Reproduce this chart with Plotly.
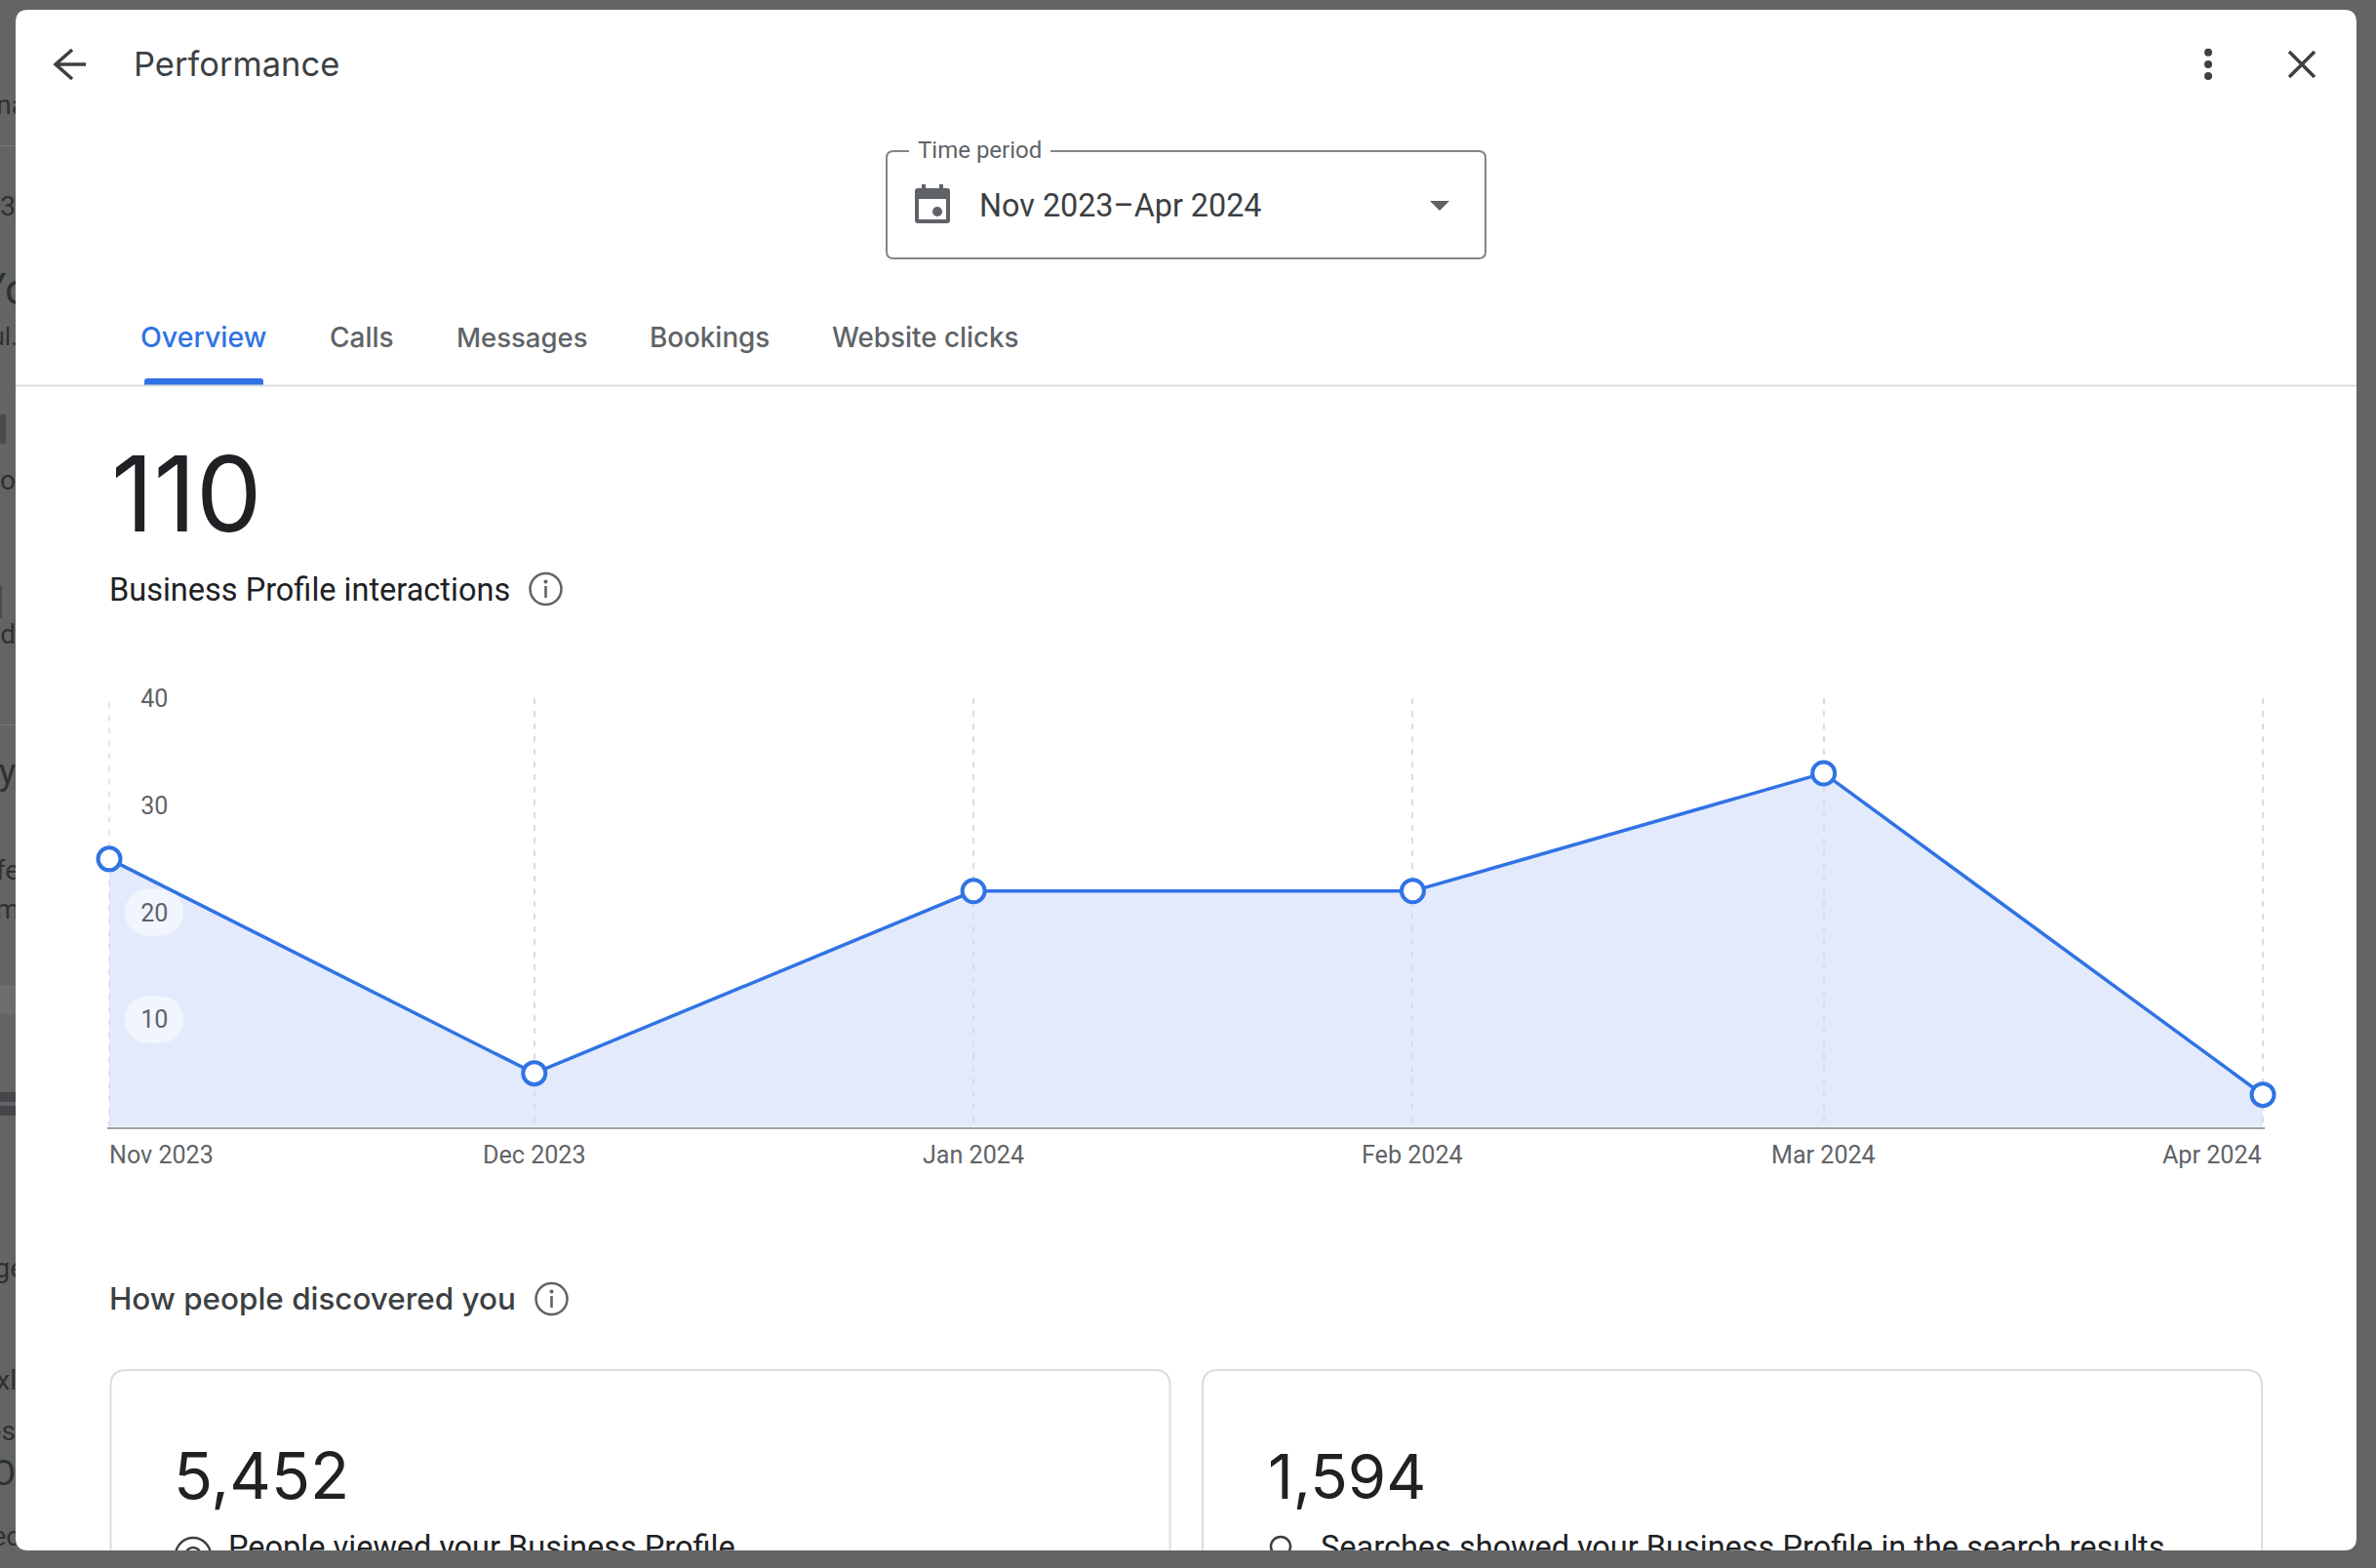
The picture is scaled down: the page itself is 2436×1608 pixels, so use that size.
import plotly.graph_objects as go

W, H = 2436, 1608

# chart data
months = ["2023-11-01", "2023-12-01", "2024-01-01", "2024-02-01", "2024-03-01", "2024-04-01"]
interactions = [25, 5, 22, 22, 33, 3]
month_labels = ["Nov 2023", "Dec 2023", "Jan 2024", "Feb 2024", "Mar 2024", "Apr 2024"]
month_anchors = ["left", "center", "center", "center", "center", "right"]
y_ticks = [10, 20, 30, 40]

# bits of the page behind the dialog, cut off by its left edge
strip_texts = ["na", "3", "Yo", "ul.", "o", "d", "y", "fe", "m", "ge", "xl", "os", "O", "ec"]
strip_x = [27, 16, 30, 18, 16, 16, 16, 20, 20, 25, 17, 16, 16, 21]
strip_y = [110, 214, 301, 347, 495, 653, 795, 895, 935, 1303, 1418, 1470, 1514, 1578]
strip_size = [28, 28, 44, 26, 28, 28, 36, 28, 28, 28, 28, 28, 36, 28]

# text cut off by the bottom of the dialog
card_texts = ["People viewed your Business Profile", "Searches showed your Business Profile in the search results"]
card_text_x = [234, 1354]

GREY_BG = "#636565"
BLUE = "#3073e4"
FILL = "#e3eafc"
DARK = "#202124"
MID = "#3c4043"
LABEL = "#5f6368"
LINE_GREY = "#dadce0"
ROBOTO = "Roboto"
SANS = "Inter"


def round_rect(x0, y0, x1, y1, r):
    return (f"M{x0+r},{y0} L{x1-r},{y0} Q{x1},{y0} {x1},{y0+r} L{x1},{y1-r} Q{x1},{y1} {x1-r},{y1} "
            f"L{x0+r},{y1} Q{x0},{y1} {x0},{y1-r} L{x0},{y0+r} Q{x0},{y0} {x0+r},{y0} Z")


def page_shape(**kw):
    kw.setdefault("xref", "x")
    kw.setdefault("yref", "y")
    kw.setdefault("layer", "below")
    if "line" not in kw:
        kw["line_width"] = 0
    return kw


def stroke(path, color=MID, width=3.5):
    return page_shape(type="path", path=path, line=dict(color=color, width=width))


def disc(cx, cy, r, color):
    return page_shape(type="circle", x0=cx - r, x1=cx + r, y0=cy - r, y1=cy + r, fillcolor=color)


def ring(cx, cy, r, color=LABEL, width=2.5):
    return page_shape(type="circle", x0=cx - r, x1=cx + r, y0=cy - r, y1=cy + r, line=dict(color=color, width=width))


def block(x0, y0, x1, y1, color):
    return page_shape(type="rect", x0=x0, x1=x1, y0=y0, y1=y1, fillcolor=color)


def info_icon(cx, cy):
    return [ring(cx, cy, 16), disc(cx, cy - 7.5, 2, LABEL), block(cx - 1.3, cy - 3, cx + 1.3, cy + 9, LABEL)]


shapes = [
    # page behind the dialog
    block(0, 1120, 16, 1130, "#44464a"),
    block(0, 1134, 16, 1144, "#44464a"),
    block(0, 149, 16, 150, "#777979"),
    block(0, 743, 16, 744, "#777979"),
    block(0, 425, 6, 455, "#4a4c4c"),
    block(0, 600, 2, 634, "#4a4c4c"),
    block(0, 1010, 16, 1040, "#6c6e6e"),
    # dialog
    page_shape(type="path", path=round_rect(16, 10, 2416, 1590, 13), fillcolor="white"),
    # header icons
    stroke("M88,66 L57,66 M74,51 L57,66 L74,81"),
    disc(2264, 53.7, 4, MID), disc(2264, 66, 4, MID), disc(2264, 78, 4, MID),
    stroke("M2347,53 L2373,79 M2373,53 L2347,79"),
    # time period box, open behind its label
    stroke("M932,155 L916,155 Q909,155 909,162 L909,258 Q909,265 916,265 L1516,265 Q1523,265 1523,258 "
           "L1523,162 Q1523,155 1516,155 L1077,155", color="#80868b", width=2),
    page_shape(type="path", path=round_rect(938, 193, 974, 229, 3), fillcolor=LABEL),
    block(942, 204, 970, 225, "white"),
    block(945, 189, 949, 194, LABEL),
    block(963, 189, 967, 194, LABEL),
    disc(961, 217, 5, LABEL),
    page_shape(type="path", path="M1466,206 L1486,206 L1476,216 Z", fillcolor=LABEL),
    # tabs
    page_shape(type="path", path="M148,395 L148,391 Q148,388 151,388 L267,388 Q270,388 270,391 L270,395 Z", fillcolor=BLUE),
    block(16, 394.5, 2416, 396.5, LINE_GREY),
    *info_icon(559.5, 604),
    *info_icon(565.5, 1332),
    # cards, the bottom ones run past the dialog
    stroke(round_rect(113.5, 1405, 1199.5, 1700, 16), color=LINE_GREY, width=2),
    stroke(round_rect(1233, 1405, 2319, 1700, 16), color=LINE_GREY, width=2),
    ring(198, 1595, 18, MID),
    ring(198, 1595, 8, MID),
    ring(1313, 1586, 10, MID),
    # grey below the dialog hides what runs past it
    block(0, 1590, W, H, GREY_BG),
]

# translucent pills behind the y tick labels
for tick in y_ticks:
    shapes.append(dict(type="path", xref="x3", yref="y3", layer="below", xsizemode="pixel", ysizemode="pixel",
                       xanchor=months[0], yanchor=tick, line_width=0, fillcolor="rgba(255,255,255,0.5)",
                       path="M40,-24 L52,-24 C68,-24 76,-12 76,0 C76,12 68,24 52,24 L40,24 C24,24 16,12 16,0 C16,-12 24,-24 40,-24 Z"))

# plotly leaves out the first gridline next to the inside tick labels
shapes.append(dict(type="line", xref="x3", yref="y3", layer="below", x0=months[0], x1=months[0], y0=0, y1=40,
                   line=dict(color=LINE_GREY, width=1.5, dash="6px,7px")))

fig = go.Figure()

# area goes on its own subplot so pills, grid and labels sit above it
fig.add_trace(go.Scatter(x=months, y=interactions, xaxis="x2", yaxis="y2", mode="none", fill="tozeroy",
                         fillcolor=FILL, hoverinfo="skip"))
fig.add_trace(go.Scatter(x=months, y=interactions, xaxis="x3", yaxis="y3", mode="lines+markers", cliponaxis=False,
                         line=dict(color=BLUE, width=3.5),
                         marker=dict(size=23, color="white", line=dict(color=BLUE, width=4))))
fig.add_trace(go.Scatter(x=strip_x, y=strip_y, xaxis="x4", yaxis="y4", mode="text",
                         text=strip_texts, textposition="middle left", hoverinfo="skip",
                         textfont=dict(family=ROBOTO, size=strip_size, color="#2f3031")))
fig.add_trace(go.Scatter(x=card_text_x, y=[1589.5, 1589.5], xaxis="x5", yaxis="y5", mode="text",
                         text=card_texts, textposition="middle right", hoverinfo="skip",
                         textfont=dict(family=ROBOTO, size=32.5, color=DARK)))


def label(x, y, text, size, color=DARK, family=ROBOTO, anchor="left", weight=None, xref="x"):
    font = dict(family=family, size=size, color=color)
    if weight:
        font["weight"] = weight
    return dict(x=x, y=y, xref=xref, yref="y", text=text, showarrow=False, xanchor=anchor, yanchor="middle",
                font=font, borderpad=0)


annotations = [
    label(135.5, 65.5, "Performance", 34.5, MID, SANS),
    label(940, 154, "Time period", 24, LABEL),
    label(1003, 211, "Nov 2023–Apr 2024", 32.3, MID),
    label(143, 345.5, "Overview", 28.5, BLUE, SANS, weight=500),
    label(337, 345.5, "Calls", 28, LABEL, SANS, weight=500),
    label(466.5, 345.5, "Messages", 27.5, LABEL, SANS, weight=500),
    label(665, 345.5, "Bookings", 27.8, LABEL, SANS, weight=500),
    label(852, 345.5, "Website clicks", 27.8, LABEL, SANS, weight=500),
    label(113, 506, "110", 107, DARK, SANS),
    label(111, 604.5, "Business Profile interactions", 32.5, DARK),
    label(111, 1332, "How people discovered you", 31.4, MID, SANS, weight=500),
    label(176.5, 1513, "5,452", 66, DARK, SANS),
    label(1299, 1513, "1,594", 63.5, DARK, SANS),
]
for m, text, anchor in zip(months, month_labels, month_anchors):
    annotations.append(label(m, 1184.5, text, 25.1, LABEL, anchor=anchor, xref="x3"))
annotations[-6]["xshift"] = -1.5

page_axis = dict(visible=False, fixedrange=True)
plot_x = [112 / W, 2320 / W]
plot_y = [(H - 1155.6) / H, (H - 716) / H]
# grid axis runs a hair past the first and last month or plotly drops those gridlines
grid_x = [(112 - 1.816) / W, (2320 + 1.816) / W]
grid_range = ["2023-10-31 21:00", "2024-04-01 03:00"]

fig.update_layout(
    width=W, height=H, autosize=False,
    margin=dict(l=0, r=0, t=0, b=0),
    paper_bgcolor=GREY_BG, plot_bgcolor="rgba(0,0,0,0)",
    showlegend=False, shapes=shapes, annotations=annotations,
    # page pixels for the dialog furniture
    xaxis=dict(page_axis, domain=[0, 1], range=[0, W]),
    yaxis=dict(page_axis, domain=[0, 1], range=[H, 0]),
    # area
    xaxis2=dict(page_axis, type="date", domain=plot_x, range=[months[0], months[-1]], anchor="y2"),
    yaxis2=dict(page_axis, domain=plot_y, range=[0, 40], anchor="x2"),
    # grid, labels, line
    xaxis3=dict(type="date", domain=grid_x, range=grid_range, anchor="y3", fixedrange=True,
                tickvals=months, showticklabels=False, ticks="", showgrid=True, gridcolor=LINE_GREY, gridwidth=1.5,
                griddash="6px,7px", showline=True, linecolor="#9aa0a6", linewidth=2, zeroline=False),
    yaxis3=dict(domain=plot_y, range=[0, 40], anchor="x3", fixedrange=True, tickvals=y_ticks, showgrid=False,
                zeroline=False, showline=False, ticks="", ticklabelposition="inside", ticklabelstandoff=31,
                ticklabeloverflow="hide past div", automargin=False, tickfont=dict(family=ROBOTO, size=25, color=LABEL)),
    # clipped text
    xaxis4=dict(page_axis, domain=[0, 16 / W], range=[0, 16], anchor="y4"),
    yaxis4=dict(page_axis, domain=[0, 1], range=[H, 0], anchor="x4"),
    xaxis5=dict(page_axis, domain=[0, 1], range=[0, W], anchor="y5"),
    yaxis5=dict(page_axis, domain=[(H - 1590) / H, 1], range=[1590, 0], anchor="x5"),
)

fig.write_html("out.html", config={"displayModeBar": False}, post_script="document.body.style.margin='0';")
